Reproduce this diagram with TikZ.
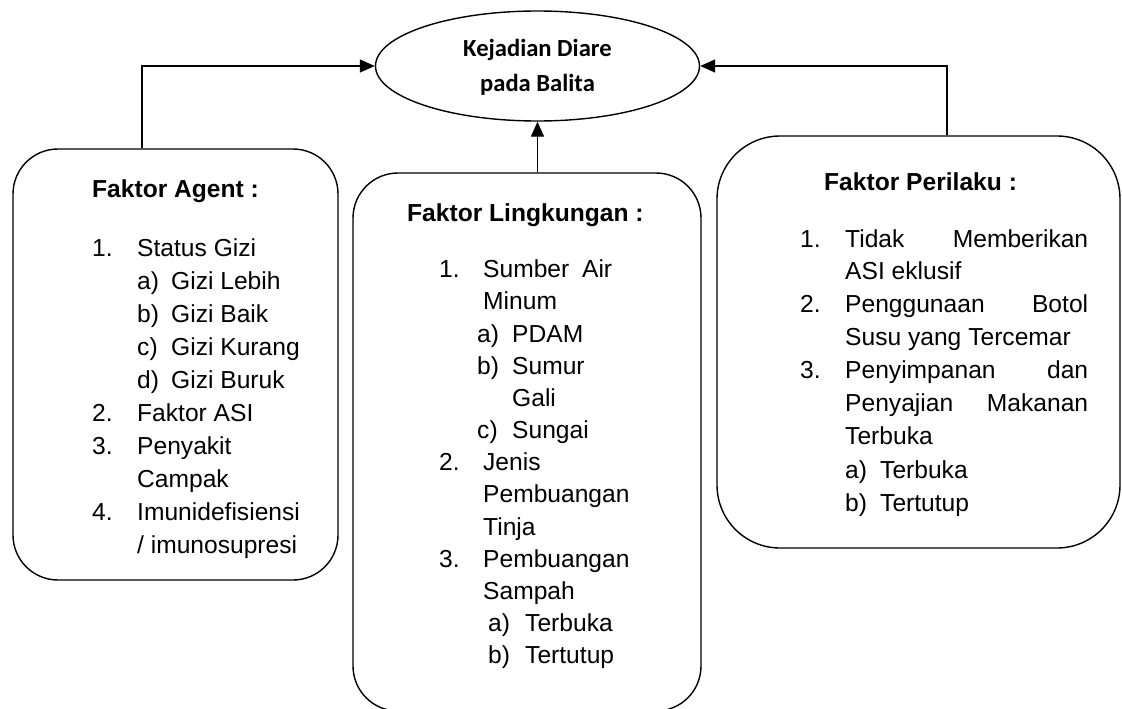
\documentclass[tikz,border=0pt]{standalone}
\usepackage{fontspec}
\setmainfont{Liberation Sans}
\newfontfamily\calib{Carlito}
\usetikzlibrary{arrows.meta,shapes.geometric}
\newcommand\numlbl[2]{\makebox[#1][l]{#2}}
\tikzset{
  box/.style={draw, line width=1.4pt, rounded corners=#1, inner sep=0pt},
  box/.default=45pt,
  oval/.style={draw, ellipse, line width=1.4pt, inner sep=0pt, minimum width=324pt, minimum height=110pt},
  conn/.style={line width=1.4pt, -{Triangle[length=15pt,width=13pt]}},
  txt/.style={anchor=base west, inner sep=0pt, font=\fontsize{24.6pt}{33pt}\selectfont},
  head/.style={txt, font=\fontsize{24.6pt}{33pt}\selectfont\bfseries},
  etxt/.style={anchor=base, inner sep=0pt, font=\calib\bfseries\fontsize{24.6pt}{30pt}\selectfont}
}
\begin{document}
\begin{tikzpicture}[x=1pt,y=-1pt]
\useasboundingbox (0,0) rectangle (1122,709);
% main oval
\node[oval] (ell) at (537.5,66) {};
\node[etxt] (e1) at (537.5,56.5) {Kejadian Diare};
\node[etxt] (e2) at (537.5,92) {pada Balita};
% boxes
\node[box, minimum width=325pt, minimum height=431pt] (b1) at (175.5,364.5) {};
\node[box, minimum width=348pt, minimum height=538pt] (b2) at (527,442) {};
\node[box=63pt, minimum width=403pt, minimum height=412pt] (b3) at (918.5,342) {};
% connectors
\coordinate (c1) at (142,149);
\coordinate (c3) at (947,136);
\draw[conn] (b1.north -| c1) |- (ell.west);
\draw[conn] (ell.south |- b2.north) -- (ell.south);
\draw[conn] (b3.north -| c3) |- (ell.east);
% headings
\node[head] (h1) at (92,197) {Faktor Agent :};
\node[head] (h2) at (407,221) {Faktor Lingkungan :};
\node[head] (h3) at (824,190) {Faktor Perilaku :};
% left box list
\foreach [count=\i] \x/\y/\t in {
  92/256/{\numlbl{45pt}{1.}Status Gizi},
  137/289/{\numlbl{34pt}{a)}Gizi Lebih},
  137/322/{\numlbl{34pt}{b)}Gizi Baik},
  137/355/{\numlbl{34pt}{c)}Gizi Kurang},
  137/388/{\numlbl{34pt}{d)}Gizi Buruk},
  92/421/{\numlbl{45pt}{2.}Faktor ASI},
  92/454/{\numlbl{45pt}{3.}Penyakit},
  137/487/{Campak},
  92/520/{\numlbl{45pt}{4.}Imunidefisiensi},
  137/553/{/ imunosupresi}}
  \node[txt] (l\i) at (\x,\y) {\t};
% middle box list
\foreach [count=\i] \x/\y/\t in {
  439/277/{\numlbl{44pt}{1.}\makebox[129pt][s]{Sumber\hfill Air}},
  483/309/{Minum},
  477/342/{\numlbl{35pt}{a)}PDAM},
  477/374/{\numlbl{35pt}{b)}Sumur},
  512/406/{Gali},
  477/438/{\numlbl{35pt}{c)}Sungai},
  439/470/{\numlbl{44pt}{2.}Jenis},
  483/502/{Pembuangan},
  483/535/{Tinja},
  439/567/{\numlbl{44pt}{3.}Pembuangan},
  483/599/{Sampah},
  488/631/{\numlbl{37pt}{a)}Terbuka},
  488/663/{\numlbl{37pt}{b)}Tertutup}}
  \node[txt] (m\i) at (\x,\y) {\t};
% right box list
\foreach [count=\i] \x/\y/\t in {
  800/247/{\numlbl{45pt}{1.}\makebox[243pt][s]{Tidak\hfill Memberikan}},
  845/279/{ASI eklusif},
  800/312/{\numlbl{45pt}{2.}\makebox[243pt][s]{Penggunaan\hfill Botol}},
  845/345/{Susu yang Tercemar},
  800/378/{\numlbl{45pt}{3.}\makebox[243pt][s]{Penyimpanan\hfill dan}},
  845/411/{\makebox[243pt][s]{Penyajian\hfill Makanan}},
  845/444/{Terbuka},
  845/478/{\numlbl{35pt}{a)}Terbuka},
  845/511/{\numlbl{35pt}{b)}Tertutup}}
  \node[txt] (r\i) at (\x,\y) {\t};
\end{tikzpicture}
\end{document}
